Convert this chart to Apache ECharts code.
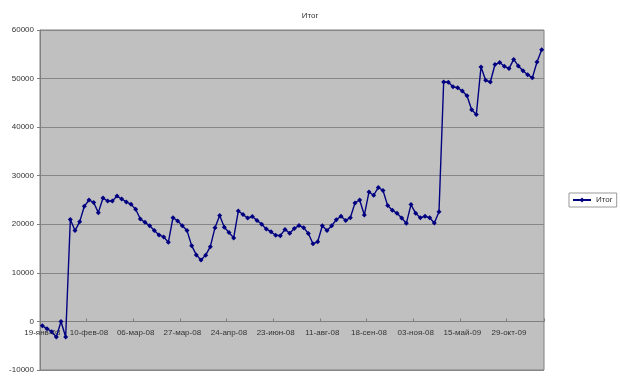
<!DOCTYPE html>
<html>
<head>
<meta charset="utf-8">
<script src="https://cdn.jsdelivr.net/npm/echarts@6/dist/echarts.min.js"></script>
<style>
html,body{margin:0;padding:0;background:#fff;}
#c{width:620px;height:381px;}
</style>
</head>
<body>
<div id="c"></div>
<script>
const titleText = 'Итог';
const seriesName = 'Итог';
const tickLabels = ['19-янв-08','10-фев-08','06-мар-08','27-мар-08','24-апр-08','23-июн-08','11-авг-08','18-сен-08','03-ноя-08','15-май-09','29-окт-09'];
const values = [
  -900,-1500,-2100,-3200,0,-3200,21000,18700,20500,23700,
  25000,24500,22400,25400,24800,24800,25800,25200,24600,24100,
  23100,21100,20400,19700,18700,17800,17400,16300,21350,20700,
  19700,18700,15600,13700,12650,13650,15400,19300,21800,19400,
  18300,17200,22750,22000,21300,21600,20800,20000,19050,18450,
  17750,17650,18950,18150,19150,19730,19300,18100,16000,16400,
  19700,18700,19700,20950,21650,20800,21350,24400,25000,21900,
  26650,25980,27580,26950,23850,22900,22250,21300,20200,24050,
  22250,21350,21650,21350,20250,22600,49300,49250,48300,48100,
  47450,46450,43600,42600,52400,49650,49300,52900,53300,52550,
  52050,53950,52600,51600,50800,50150,53400,55950
];
const labelStep = 10;
const categories = values.map((v, i) => (i % labelStep === 0 ? (tickLabels[i / labelStep] || '') : ''));
const yMin = -10000, yMax = 60000, yStep = 10000;

const gridTop = 30, gridBottom = 11, H = 381;
const plotH = H - gridTop - gridBottom;
// place the category axis at y = 0 of the value scale
const zeroOffset = -plotH * (0 - yMin) / (yMax - yMin);

const chart = echarts.init(document.getElementById('c'), null, {renderer: 'canvas'});
const font = 'Arial, "Liberation Sans", sans-serif';
chart.setOption({
  animation: false,
  backgroundColor: '#ffffff',
  title: {
    text: titleText, left: 'center', top: 7,
    textStyle: {fontSize: 8, fontWeight: 'normal', color: '#333', fontFamily: font}
  },
  legend: {
    data: [seriesName], left: 569, top: 193,
    backgroundColor: '#fff', borderColor: '#999', borderWidth: 1,
    padding: [3, 4, 3, 3], itemWidth: 18, itemHeight: 6, itemGap: 3,
    textStyle: {fontSize: 8, color: '#333', fontFamily: font}
  },
  grid: {
    left: 40, right: 76, top: gridTop, bottom: gridBottom,
    show: true, backgroundColor: '#c0c0c0', borderColor: '#808080', borderWidth: 1,
    containLabel: false
  },
  xAxis: {
    type: 'category', data: categories, boundaryGap: true,
    position: 'bottom', offset: zeroOffset,
    axisLine: {onZero: false, lineStyle: {color: '#808080', width: 1}},
    axisTick: {show: true, interval: labelStep - 1, inside: true, length: 3, lineStyle: {color: '#808080'}},
    axisLabel: {interval: labelStep - 1, fontSize: 8, color: '#333', fontFamily: font, margin: 7},
    splitLine: {show: false}
  },
  yAxis: {
    type: 'value', min: yMin, max: yMax, interval: yStep,
    axisLine: {show: true, lineStyle: {color: '#808080'}},
    axisTick: {show: true, length: 3, lineStyle: {color: '#808080'}},
    axisLabel: {fontSize: 8, color: '#333', fontFamily: font, margin: 6, formatter: v => String(v)},
    splitLine: {show: true, lineStyle: {color: '#878787', width: 1}}
  },
  series: [{
    name: seriesName, type: 'line', data: values,
    symbol: 'diamond', symbolSize: 5, showSymbol: true, showAllSymbol: true,
    lineStyle: {color: '#000080', width: 1.4},
    itemStyle: {color: '#000080'}
  }]
});
</script>
</body>
</html>
